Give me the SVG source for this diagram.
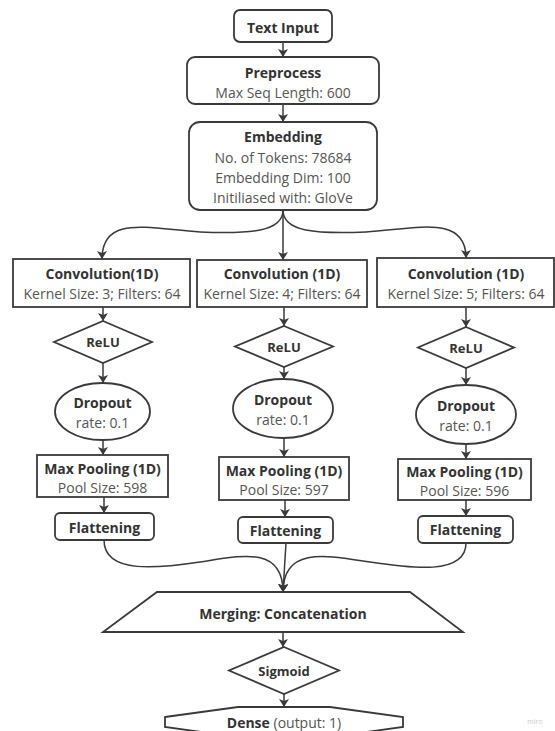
<svg xmlns="http://www.w3.org/2000/svg" width="555" height="731" viewBox="0 0 555 731">
<style>
.s{fill:#fff;stroke:#3a3a3a;stroke-width:1.8}
.t{font-family:"Open Sans","Noto Sans",sans-serif;font-size:14px;text-anchor:middle;dominant-baseline:central}
.b{font-weight:bold;fill:#333;font-size:14px}
.n{fill:#555}
.r{font-size:13px}
.c{fill:none;stroke:#3a3a3a;stroke-width:1.5}
</style>
<defs>
<marker id="ah" viewBox="0 0 8 10" refX="8" refY="5" markerWidth="8" markerHeight="10" markerUnits="userSpaceOnUse" orient="auto">
<path d="M0,0 L8,5 L0,10 L2,5 z" fill="#3a3a3a"/>
</marker>
</defs>
<rect width="555" height="731" fill="#fff"/>
<g id="connectors">
<path class="c" marker-end="url(#ah)" d="M283,42 L283,57"/>
<path class="c" marker-end="url(#ah)" d="M283,104 L283,122"/>
<path class="c" marker-end="url(#ah)" d="M283,210 L283,260"/>
<path class="c" marker-end="url(#ah)" d="M283,210 C283,232 250,234 200,232 C150,229 102,214 102,259"/>
<path class="c" marker-end="url(#ah)" d="M283,210 C283,232 316,234 366,232 C416,229 466,214 466,258"/>
<path class="c" marker-end="url(#ah)" d="M103,307 L103,321"/>
<path class="c" marker-end="url(#ah)" d="M103,363 L103,383"/>
<path class="c" marker-end="url(#ah)" d="M103,440 L103,455"/>
<path class="c" marker-end="url(#ah)" d="M104,497 L104,513"/>
<path class="c" marker-end="url(#ah)" d="M284,307 L284,326"/>
<path class="c" marker-end="url(#ah)" d="M284,367 L284,379"/>
<path class="c" marker-end="url(#ah)" d="M284,438 L284,457"/>
<path class="c" marker-end="url(#ah)" d="M285,500 L285,517"/>
<path class="c" marker-end="url(#ah)" d="M466,307 L466,327"/>
<path class="c" marker-end="url(#ah)" d="M466,368 L466,385"/>
<path class="c" marker-end="url(#ah)" d="M466,444 L466,459"/>
<path class="c" marker-end="url(#ah)" d="M466,500 L466,516"/>
<path class="c" marker-end="url(#ah)" d="M104,540 C104,575 160,568 200,562 S283,545 283,592"/>
<path class="c" marker-end="url(#ah)" d="M466,543 C466,576 410,568 370,562 S283,545 283,592"/>
<path class="c" marker-end="url(#ah)" d="M286,543 L283,592"/>
<path class="c" marker-end="url(#ah)" d="M283,632 L283,647"/>
<path class="c" marker-end="url(#ah)" d="M284,694 L284,707"/>
</g>
<g id="text-input">
<rect class="s" x="234" y="10" width="98" height="32" rx="6"/>
<text class="t b" x="283" y="27">Text Input</text>
</g>
<g id="preprocess">
<rect class="s" x="187" y="57" width="192" height="47" rx="8"/>
<text class="t b" x="283" y="72">Preprocess</text>
<text class="t n" x="283" y="92">Max Seq Length: 600</text>
</g>
<g id="embedding">
<rect class="s" x="189" y="122" width="188" height="88" rx="11"/>
<text class="t b" x="283" y="136">Embedding</text>
<text class="t n" x="283" y="157">No. of Tokens: 78684</text>
<text class="t n" x="283" y="177">Embedding Dim: 100</text>
<text class="t n" x="283" y="197">Initiliased with: GloVe</text>
</g>
<g id="conv1">
<rect class="s" x="13" y="259" width="177" height="48"/>
<text class="t b" x="102" y="273">Convolution(1D)</text>
<text class="t n" x="102" y="293">Kernel Size: 3; Filters: 64</text>
</g>
<g id="conv2">
<rect class="s" x="197" y="260" width="170" height="47"/>
<text class="t b" x="282" y="273">Convolution (1D)</text>
<text class="t n" x="282" y="293">Kernel Size: 4; Filters: 64</text>
</g>
<g id="conv3">
<rect class="s" x="377" y="258" width="177" height="49"/>
<text class="t b" x="466" y="273">Convolution (1D)</text>
<text class="t n" x="466" y="293">Kernel Size: 5; Filters: 64</text>
</g>
<g id="relu1">
<polygon class="s" points="103,321 152,342 103,363 54,342"/>
<text class="t b r" x="103" y="342">ReLU</text>
</g>
<g id="relu2">
<polygon class="s" points="284,326 333,346.5 284,367 235,346.5"/>
<text class="t b r" x="284" y="346.5">ReLU</text>
</g>
<g id="relu3">
<polygon class="s" points="466,327 514,347.5 466,368 418,347.5"/>
<text class="t b r" x="466" y="347.5">ReLU</text>
</g>
<g id="dropout1">
<ellipse class="s" cx="102.5" cy="411.5" rx="47.5" ry="28.5"/>
<text class="t b" x="102.5" y="402">Dropout</text>
<text class="t n" x="102.5" y="422">rate: 0.1</text>
</g>
<g id="dropout2">
<ellipse class="s" cx="283" cy="408.5" rx="50" ry="29.5"/>
<text class="t b" x="283" y="399">Dropout</text>
<text class="t n" x="283" y="419">rate: 0.1</text>
</g>
<g id="dropout3">
<ellipse class="s" cx="466" cy="414.5" rx="50" ry="29.5"/>
<text class="t b" x="466" y="405">Dropout</text>
<text class="t n" x="466" y="425">rate: 0.1</text>
</g>
<g id="maxpool1">
<rect class="s" x="37" y="455" width="131" height="42"/>
<text class="t b" x="102.5" y="468">Max Pooling (1D)</text>
<text class="t n" x="102.5" y="487">Pool Size: 598</text>
</g>
<g id="maxpool2">
<rect class="s" x="219" y="457" width="130" height="43"/>
<text class="t b" x="284" y="470">Max Pooling (1D)</text>
<text class="t n" x="284" y="489">Pool Size: 597</text>
</g>
<g id="maxpool3">
<rect class="s" x="398" y="459" width="133" height="41"/>
<text class="t b" x="464.5" y="471">Max Pooling (1D)</text>
<text class="t n" x="464.5" y="490">Pool Size: 596</text>
</g>
<g id="flatten1">
<rect class="s" x="55" y="513" width="99" height="27" rx="5"/>
<text class="t b" x="104.5" y="527">Flattening</text>
</g>
<g id="flatten2">
<rect class="s" x="238" y="517" width="95" height="26" rx="5"/>
<text class="t b" x="285.5" y="530">Flattening</text>
</g>
<g id="flatten3">
<rect class="s" x="418" y="516" width="95" height="27" rx="5"/>
<text class="t b" x="465.5" y="529.5">Flattening</text>
</g>
<g id="merging">
<polygon class="s" points="157,592 410,592 463,632 103,632"/>
<text class="t b" x="283" y="613">Merging: Concatenation</text>
</g>
<g id="sigmoid">
<polygon class="s" points="284,647 339,670.5 284,694 229,670.5"/>
<text class="t b r" x="284" y="670.5">Sigmoid</text>
</g>
<g id="dense">
<polygon class="s" points="165,717 238,707 330,707 403,717 403,727 330,737 238,737 165,727"/>
<text class="t" x="284" y="722"><tspan class="b">Dense</tspan><tspan class="n"> (output: 1)</tspan></text>
</g>
<text x="535" y="721" style="font-family:'Open Sans',sans-serif;font-size:7px;fill:#ccc;text-anchor:middle;dominant-baseline:central">miro</text>
</svg>
